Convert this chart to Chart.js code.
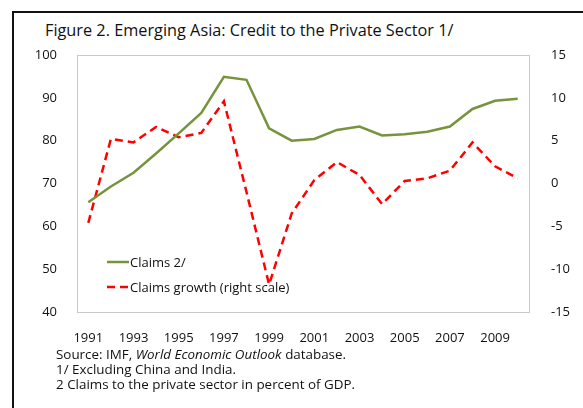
<!DOCTYPE html>
<html lang="en">
<head>
<meta charset="UTF-8">
<title>Emerging Asia: Credit to the Private Sector</title>
<script src="https://cdn.jsdelivr.net/npm/chart.js"></script>
<style>
  body { margin: 0; background: #fff; font-family: "Open Sans", Arial, sans-serif; color: #111; }
  #wrap { position: relative; width: 583px; height: 408px; overflow: hidden; }
  #frame { position: absolute; left: 12px; top: 11px; right: 0; bottom: 0; border-left: 2px solid #111; border-top: 2px solid #111; }
  #title { position: absolute; left: 45px; top: 19px; font-size: 16.3px; white-space: nowrap; }
  #chart { position: absolute; left: 0; top: 0; }
  #notes { position: absolute; left: 56px; top: 347px; font-size: 13.4px; line-height: 15px; white-space: nowrap; }
</style>
</head>
<body>
<div id="wrap">
  <div id="frame"></div>
  <div id="title">Figure 2. Emerging Asia: Credit to the Private Sector 1/</div>
  <canvas id="chart" width="583" height="350"></canvas>
  <div id="notes">
    Source: IMF, <i>World Economic Outlook</i> database.<br>
    1/ Excluding China and India.<br>
    2 Claims to the private sector in percent of GDP.
  </div>
</div>
<script>
const years = [1991, 1992, 1993, 1994, 1995, 1996, 1997, 1998, 1999, 2000,
               2001, 2002, 2003, 2004, 2005, 2006, 2007, 2008, 2009, 2010];
const claims = [65.6, 69.3, 72.5, 77.0, 81.7, 86.5, 94.9, 94.2, 82.9, 80.0,
                80.4, 82.5, 83.3, 81.2, 81.5, 82.1, 83.3, 87.4, 89.3, 89.8];
const claimsGrowth = [-4.6, 5.2, 4.8, 6.6, 5.4, 5.9, 9.6, -1.0, -11.8, -3.5,
                      0.4, 2.5, 1.0, -2.4, 0.3, 0.6, 1.5, 4.8, 2.0, 0.6];

const tickFont = { family: '"Open Sans", Arial, sans-serif', size: 13 };

// light grey box around the plot + legend inside the plot
const boxAndLegend = {
  id: 'boxAndLegend',
  afterDraw(chart) {
    const ctx = chart.ctx, a = chart.chartArea;
    ctx.save();
    ctx.strokeStyle = '#c9c9c9';
    ctx.lineWidth = 1;
    ctx.strokeRect(Math.round(a.left) + 0.5, Math.round(a.top) + 0.5,
                   Math.round(a.right - a.left), Math.round(a.bottom - a.top));
    ctx.font = '13px "Open Sans", Arial, sans-serif';
    ctx.textBaseline = 'middle';
    chart.data.datasets.forEach((ds, i) => {
      const y = a.top + 207 + i * 25;
      const x = a.left + 30;
      ctx.strokeStyle = ds.borderColor;
      ctx.lineWidth = ds.borderWidth;
      ctx.setLineDash(ds.borderDash || []);
      ctx.beginPath();
      ctx.moveTo(x, y);
      ctx.lineTo(x + 22, y);
      ctx.stroke();
      ctx.setLineDash([]);
      ctx.fillStyle = '#111';
      ctx.fillText(ds.label, x + 23, y + 1);
    });
    ctx.restore();
  }
};

new Chart(document.getElementById('chart'), {
  type: 'line',
  data: {
    labels: years,
    datasets: [
      {
        label: 'Claims 2/',
        data: claims,
        yAxisID: 'y',
        borderColor: '#77933c',
        borderWidth: 2.5,
        pointRadius: 0,
        tension: 0
      },
      {
        label: 'Claims growth (right scale)',
        data: claimsGrowth,
        yAxisID: 'y2',
        borderColor: '#ff0000',
        borderWidth: 2.5,
        borderDash: [8, 5],
        pointRadius: 0,
        tension: 0
      }
    ]
  },
  options: {
    responsive: false,
    animation: false,
    layout: { padding: { top: 55, left: 0, right: 0, bottom: 0 } },
    plugins: { legend: { display: false }, title: { display: false }, tooltip: { enabled: false } },
    scales: {
      x: {
        offset: true,
        grid: { display: false },
        border: { display: false },
        ticks: {
          color: '#111', font: tickFont, maxRotation: 0, autoSkip: false, padding: 10,
          callback: function (v, i) { return i % 2 === 0 ? this.getLabelForValue(v) : ''; }
        },
        afterFit(s) { s.height = 38; }
      },
      y: {
        position: 'left', min: 40, max: 100,
        grid: { display: false },
        border: { display: false },
        ticks: { color: '#111', font: tickFont, stepSize: 10, padding: 12 },
        afterFit(s) { s.width = 77; }
      },
      y2: {
        position: 'right', min: -15, max: 15,
        grid: { display: false },
        border: { display: false },
        ticks: { color: '#111', font: tickFont, stepSize: 5, padding: 14 },
        afterFit(s) { s.width = 54; }
      }
    }
  },
  plugins: [boxAndLegend]
});
</script>
</body>
</html>
